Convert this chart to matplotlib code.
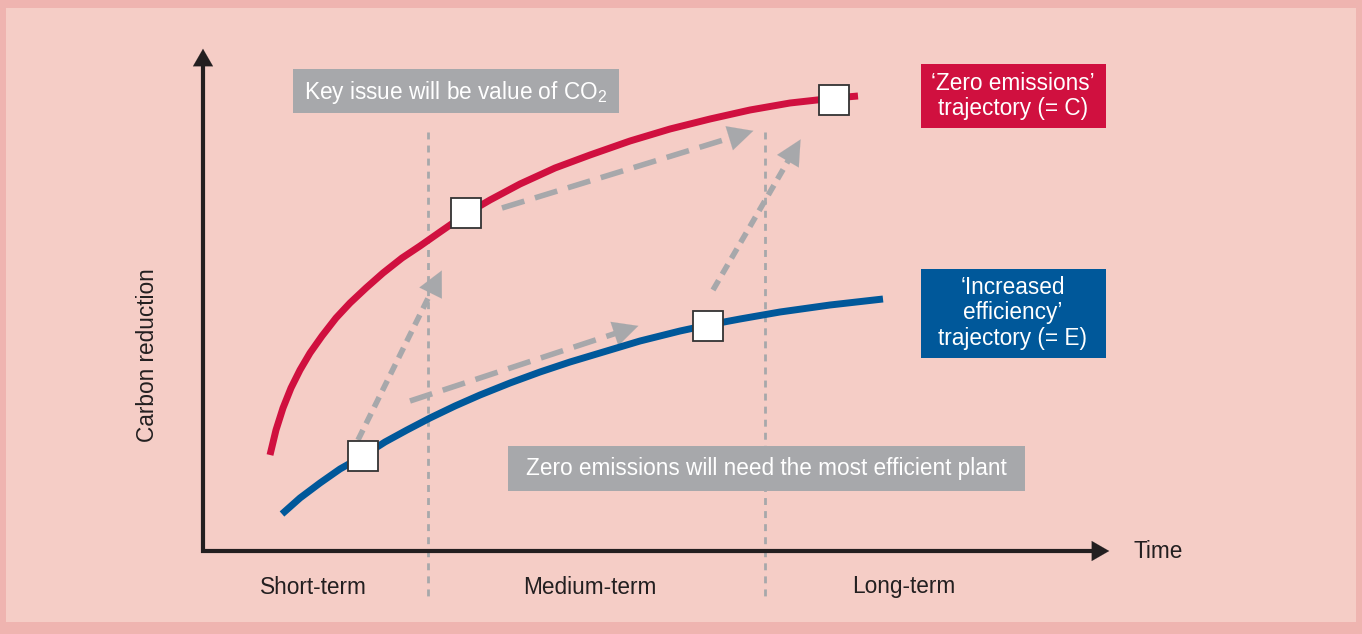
import numpy as np
import matplotlib.pyplot as plt
from matplotlib.patches import Rectangle

plt.rcParams['font.family'] = ['Liberation Sans', 'DejaVu Sans']
plt.rcParams['mathtext.default'] = 'regular'

# curves (picture pixel coords, y down)
red_x = [270, 276, 283, 291, 300, 310, 322, 336, 350, 366, 383, 402, 420, 440, 466,
         490, 520, 555, 590, 630, 670, 710, 750, 790, 835, 858]
red_y = [455, 430, 408, 388, 370, 353, 336, 318, 303, 288, 273, 258, 246, 232, 214,
         200, 184, 168, 155, 141, 129, 119, 110, 103, 98, 96]
blue_x = [282, 300, 320, 340, 363, 385, 407, 430, 455, 480, 510, 540, 570, 600, 640,
          680, 708, 740, 780, 830, 883]
blue_y = [514, 498, 483, 469, 456, 442, 430, 418, 406, 395, 383, 372, 362, 353, 341,
          331, 325, 319, 312, 305, 299]

# white squares on the curves
sq_x = [363, 466, 708, 834]
sq_y = [456, 213, 326, 100]

# grey arrows: (start, tip)
dotted_arrows = [((358, 440), (443, 268)), ((713, 290), (802, 137))]
dashed_arrows = [((502, 208), (756, 130)), ((410, 401), (641, 325))]

phase_x = [428, 765]
phases = ['Short-term', 'Medium-term', 'Long-term']
phase_pos = [313, 590, 904]

RED = '#d0103f'
BLUE = '#00589a'
GREY = '#a7a8ab'
DARK = '#231f20'

fig = plt.figure(figsize=(13.62, 6.34), dpi=100)
fig.patch.set_facecolor('#efb4b0')
ax = fig.add_axes([0, 0, 1, 1])
ax.set_xlim(0, 1362)
ax.set_ylim(634, 0)
ax.axis('off')
ax.add_patch(Rectangle((6, 8), 1350, 614, facecolor='#f5cdc6', edgecolor='none', zorder=0))

# phase dividers
for x in phase_x:
    ax.plot([x, x], [132, 596], color=GREY, lw=2, ls=(0, (2.5, 2.2)), zorder=1)

# axes with arrows
ax.plot([203, 203], [553, 62], color=DARK, lw=3, solid_capstyle='butt', zorder=5)
ax.plot([201, 1095], [551, 551], color=DARK, lw=3, solid_capstyle='butt', zorder=5)
ax.annotate('', xy=(203, 46), xytext=(203, 70),
            arrowprops=dict(arrowstyle='-|>,head_length=1.25,head_width=0.72', color=DARK, lw=0.1))
ax.annotate('', xy=(1112, 551), xytext=(1088, 551),
            arrowprops=dict(arrowstyle='-|>,head_length=1.25,head_width=0.72', color=DARK, lw=0.1))

# grey arrows
def grey_arrow(p0, p1, ls):
    p0 = np.array(p0, float)
    p1 = np.array(p1, float)
    d = (p1 - p0) / np.hypot(*(p1 - p0))
    end = p1 - d * 20
    ax.plot([p0[0], end[0]], [p0[1], end[1]], color=GREY, lw=4, ls=ls, zorder=2)
    ax.annotate('', xy=tuple(p1), xytext=tuple(p1 - d * 24),
                arrowprops=dict(arrowstyle='-|>,head_length=1.8,head_width=0.9',
                                color=GREY, lw=0.1), zorder=2)

for p0, p1 in dotted_arrows:
    grey_arrow(p0, p1, (0, (2.0, 1.3)))
for p0, p1 in dashed_arrows:
    grey_arrow(p0, p1, (0, (4.2, 2.0)))

# trajectories
ax.plot(red_x, red_y, color=RED, lw=5, solid_capstyle='butt', solid_joinstyle='round', zorder=3)
ax.plot(blue_x, blue_y, color=BLUE, lw=5, solid_capstyle='butt', solid_joinstyle='round', zorder=3)
ax.plot(sq_x, sq_y, ls='none', marker='s', markersize=21, markerfacecolor='white',
        markeredgecolor='#333333', markeredgewidth=1.3, zorder=4)

# labels
fs = 16.3
ax.text(148, 355, 'Carbon reduction', rotation=90, ha='center', va='center', fontsize=fs, color=DARK)
ax.text(1134, 552, 'Time', ha='left', va='center', fontsize=fs, color=DARK)
for t, x in zip(phases, phase_pos):
    ax.text(x, 587, t, ha='center', va='center', fontsize=fs, color=DARK)

# boxes
ax.add_patch(Rectangle((293, 69), 326, 44, facecolor=GREY, edgecolor='none', zorder=1))
ax.text(456, 92, r'Key issue will be value of $CO_2$', ha='center', va='center',
        fontsize=fs, color='white', zorder=2)
ax.add_patch(Rectangle((508, 446), 517, 45, facecolor=GREY, edgecolor='none', zorder=1))
ax.text(766, 469, 'Zero emissions will need the most efficient plant', ha='center', va='center',
        fontsize=fs, color='white', zorder=2)
ax.add_patch(Rectangle((921, 64), 185, 64, facecolor=RED, edgecolor='none', zorder=1))
ax.text(1013, 96, '\u2018Zero emissions\u2019\ntrajectory (= C)', ha='center', va='center',
        fontsize=fs, color='white', linespacing=1.12, zorder=2)
ax.add_patch(Rectangle((921, 269), 185, 89, facecolor=BLUE, edgecolor='none', zorder=1))
ax.text(1013, 313, '\u2018Increased\nefficiency\u2019\ntrajectory (= E)', ha='center', va='center',
        fontsize=fs, color='white', linespacing=1.12, zorder=2)

plt.savefig('out.png', dpi=100, facecolor=fig.get_facecolor())
